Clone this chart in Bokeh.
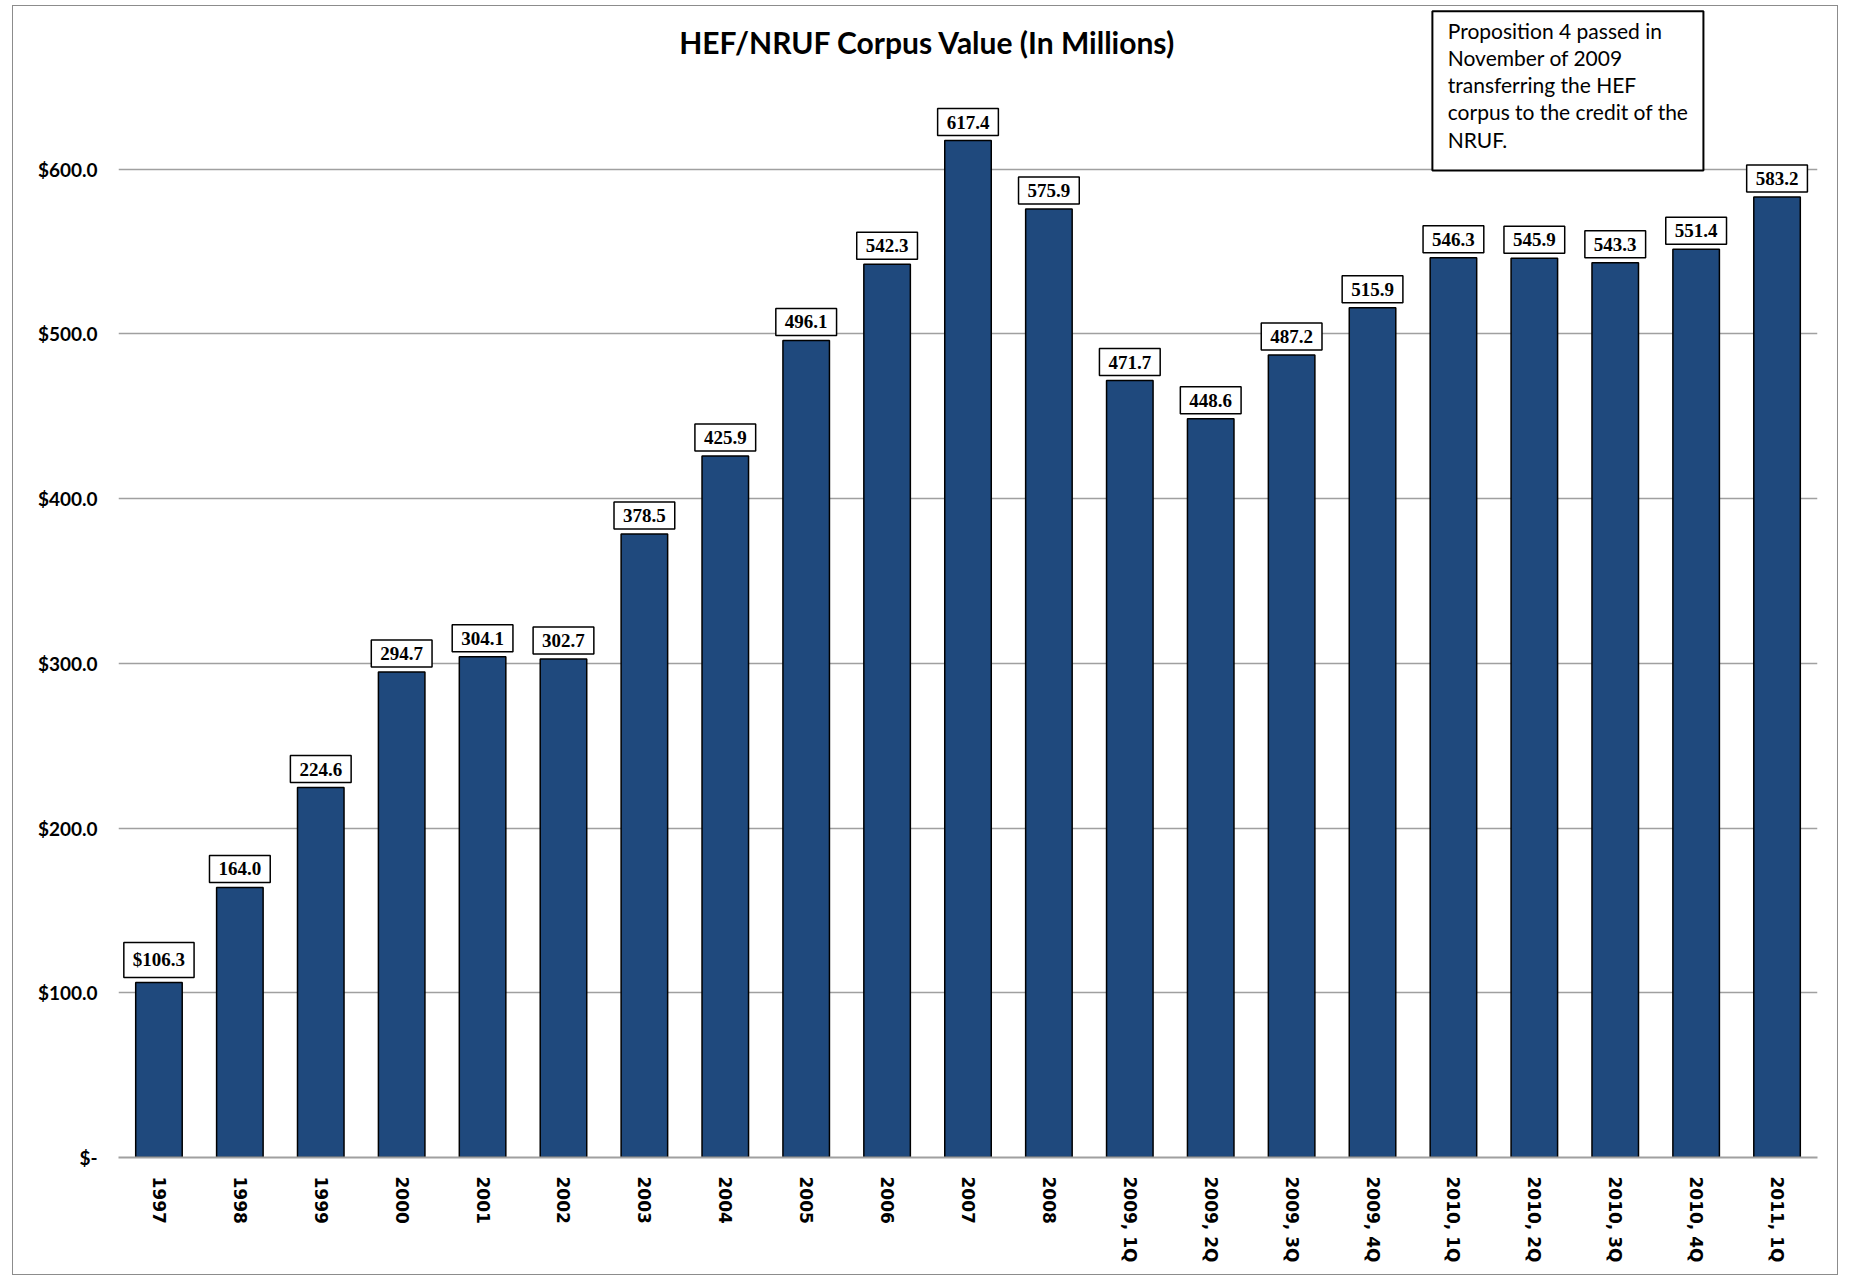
import math
from bokeh.plotting import figure
from bokeh.models import FactorRange, Range1d
from bokeh.core.properties import value
from bokeh.embed import file_html
from bokeh.resources import INLINE

categories = ["1997", "1998", "1999", "2000", "2001", "2002", "2003", "2004",
              "2005", "2006", "2007", "2008", "2009, 1Q", "2009, 2Q", "2009, 3Q",
              "2009, 4Q", "2010, 1Q", "2010, 2Q", "2010, 3Q", "2010, 4Q", "2011, 1Q"]
corpus_values = [106.3, 164.0, 224.6, 294.7, 304.1, 302.7, 378.5, 425.9, 496.1, 542.3,
                 617.4, 575.9, 471.7, 448.6, 487.2, 515.9, 546.3, 545.9, 543.3, 551.4, 583.2]
value_labels = ["$106.3", "164.0", "224.6", "294.7", "304.1", "302.7", "378.5", "425.9",
                "496.1", "542.3", "617.4", "575.9", "471.7", "448.6", "487.2", "515.9",
                "546.3", "545.9", "543.3", "551.4", "583.2"]
y_ticks = [0, 100, 200, 300, 400, 500, 600]
y_tick_labels = ["$-", "$100.0", "$200.0", "$300.0", "$400.0", "$500.0", "$600.0"]
chart_title = "HEF/NRUF Corpus Value (In Millions)"
note_text = "Proposition 4 passed in\nNovember of 2009\ntransferring the HEF\ncorpus to the credit of the\nNRUF."

p = figure(x_range=FactorRange(*categories), y_range=Range1d(0, 697),
           width=1826, height=1270, output_backend="svg", toolbar_location=None,
           min_border_left=105, min_border_right=22, min_border_top=3, min_border_bottom=119)
p.styles = {"border": "1px solid #8c8c8c", "margin-left": "12px", "margin-top": "5px"}
p.outline_line_color = None
p.background_fill_color = "white"

# grid
p.xgrid.grid_line_color = None
p.ygrid.grid_line_color = "#a0a0a0"
p.ygrid.grid_line_width = 1.5

# y axis
p.yaxis.ticker = y_ticks
p.yaxis.major_label_overrides = dict(zip(y_ticks, y_tick_labels))
p.yaxis.axis_line_color = None
p.yaxis.major_tick_line_color = None
p.yaxis.minor_tick_line_color = None
p.yaxis.major_label_text_font = "Lato"
p.yaxis.major_label_text_font_style = "bold"
p.yaxis.major_label_text_font_size = "19px"
p.yaxis.major_label_text_color = "black"
p.yaxis.major_label_standoff = 15

# x axis
p.xaxis.axis_line_color = "#a0a0a0"
p.xaxis.axis_line_width = 2
p.xaxis.major_tick_line_color = None
p.xaxis.minor_tick_line_color = None
p.xaxis.major_label_orientation = -math.pi / 2
p.xaxis.major_label_text_font = "DejaVu Sans"
p.xaxis.major_label_text_font_style = "bold"
p.xaxis.major_label_text_font_size = "17px"
p.xaxis.major_label_text_color = "black"
p.xaxis.major_label_standoff = 13

# bars
p.vbar(x=categories, top=corpus_values, width=0.575, fill_color="#1F497D",
       line_color="black", line_width=1.5)

# data labels
p.text(x=categories, y=corpus_values, text=value_labels,
       text_font=value("Liberation Serif"), text_font_style="bold", text_font_size="19px",
       text_color="black", text_align="center", text_baseline="bottom", y_offset=-5,
       background_fill_color="white", border_line_color="black", border_line_width=1.5,
       padding=dict(left=9, right=9, top=7, bottom=7))

# title
p.text(x=[10.0], y=[677], text=[chart_title], text_font=value("Lato"),
       text_font_style="bold", text_font_size="30px", text_color="black",
       text_align="center", text_baseline="middle")

# note box
p.quad(left=[16.24], right=[19.59], top=[696], bottom=[599.3], fill_color="white",
       line_color="black", line_width=2)
p.text(x=[16.43], y=[692], text=[note_text], text_font=value("Lato"),
       text_font_size="21px", text_color="black", text_line_height=1.09,
       text_align="left", text_baseline="top")

open("out.html", "w").write(file_html(p, INLINE))
